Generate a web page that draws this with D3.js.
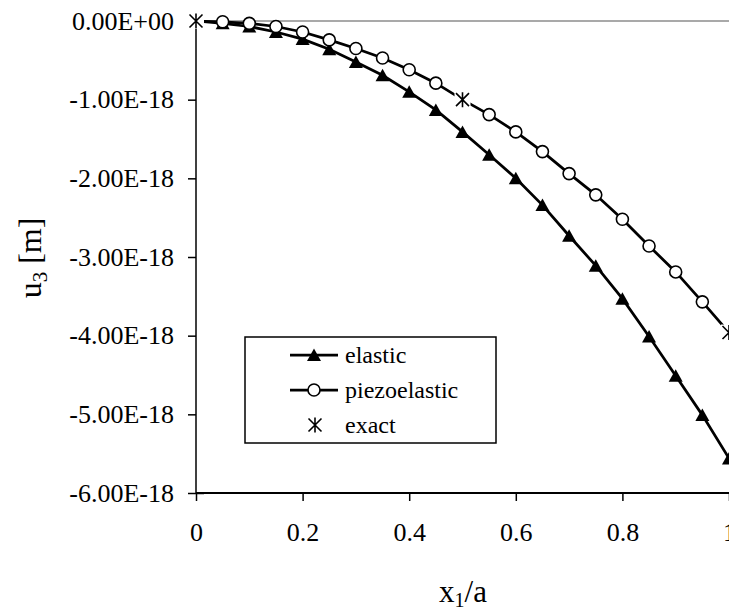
<!DOCTYPE html>
<html>
<head>
<meta charset="utf-8">
<script src="https://cdn.jsdelivr.net/npm/d3@7"></script>
<style>
  html, body { margin: 0; padding: 0; background: #fff; }
  svg { display: block; }
  svg text { font-family: "Liberation Serif", "Times New Roman", serif; fill: #000; }
</style>
</head>
<body>
<script>
// ---- data (u3 values in units of 1e-18 m) ----
const UNIT = 1e-18;
const xPos = [0, 0.05, 0.1, 0.15, 0.2, 0.25, 0.3, 0.35, 0.4, 0.45, 0.5,
              0.55, 0.6, 0.65, 0.7, 0.75, 0.8, 0.85, 0.9, 0.95, 1.0];
const elastic = [0, -0.03, -0.07, -0.14, -0.23, -0.36, -0.52, -0.69, -0.90, -1.13, -1.41,
                 -1.70, -2.00, -2.34, -2.73, -3.11, -3.53, -4.01, -4.51, -5.01, -5.56];
const piezoelastic = [0, -0.01, -0.03, -0.07, -0.14, -0.24, -0.35, -0.47, -0.62, -0.79, -1.00,
                      -1.19, -1.41, -1.66, -1.94, -2.21, -2.52, -2.86, -3.19, -3.57, -3.96];
const exactX = [0, 0.5, 1.0];
const exactY = [0, -1.00, -3.96];
const yTicks = [0, -1, -2, -3, -4, -5, -6];
const yTickLabels = ["0.00E+00", "-1.00E-18", "-2.00E-18", "-3.00E-18", "-4.00E-18", "-5.00E-18", "-6.00E-18"];
const xTicks = [0, 0.2, 0.4, 0.6, 0.8, 1];
const xTickLabels = ["0", "0.2", "0.4", "0.6", "0.8", "1"];
const legendLabels = ["elastic", "piezoelastic", "exact"];

// ---- layout ----
const W = 729, H = 612;
const FONT = "Liberation Serif, Times New Roman, serif";
const svg = d3.select("body").append("svg").attr("width", W).attr("height", H);

const x = d3.scaleLinear().domain([0, 1]).range([196, 729]);
const y = d3.scaleLinear().domain([-6, 0]).range([493, 21]);

// top plot border (grey)
svg.append("line")
  .attr("x1", x(0)).attr("x2", x(1)).attr("y1", y(0)).attr("y2", y(0))
  .attr("stroke", "#8c8c8c").attr("stroke-width", 1.5);

// y axis
const yAxis = d3.axisLeft(y).tickValues(yTicks)
  .tickFormat((d, i) => yTickLabels[i]).tickSize(8).tickPadding(14);
const gy = svg.append("g").attr("transform", `translate(${x(0)},0)`).call(yAxis)
  .attr("font-family", FONT);
gy.select(".domain").attr("stroke", "#000").attr("stroke-width", 1.5).attr("d", `M0,${y(0)}V${y(-6)}`);
gy.selectAll(".tick line").attr("stroke", "#000").attr("stroke-width", 1.5);
gy.selectAll(".tick text").style("font-size", "26px").style("font-family", FONT);
gy.selectAll(".tick").filter(d => d === -6).select("line").attr("x2", -8).attr("x1", 8);

// x axis
const xAxis = d3.axisBottom(x).tickValues(xTicks)
  .tickFormat((d, i) => xTickLabels[i]).tickSize(8).tickPadding(22);
const gx = svg.append("g").attr("transform", `translate(0,${y(-6)})`).call(xAxis)
  .attr("font-family", FONT);
gx.select(".domain").attr("stroke", "#000").attr("stroke-width", 2).attr("d", `M${x(0)},0H${x(1)}`);
gx.selectAll(".tick line").attr("stroke", "#000").attr("stroke-width", 1.5);
gx.selectAll(".tick text").style("font-size", "26px").style("font-family", FONT);

// axis titles
svg.append("text")
  .attr("x", 463).attr("y", 602).attr("text-anchor", "middle")
  .style("font-size", "31px").style("font-family", FONT)
  .html('x<tspan dy="5" style="font-size:20px">1</tspan><tspan dy="-5">/a</tspan>');

svg.append("text")
  .attr("transform", "translate(41,258) rotate(-90)")
  .attr("text-anchor", "middle")
  .style("font-size", "32px").style("font-family", FONT)
  .html('u<tspan dy="6" style="font-size:21px">3</tspan><tspan dy="-6"> [m]</tspan>');

// ---- series ----
const line = d3.line().x(d => x(d[0])).y(d => y(d[1]));
const elasticPts = xPos.map((v, i) => [v, elastic[i]]);
const piezoPts = xPos.map((v, i) => [v, piezoelastic[i]]);

const plot = svg.append("g");

plot.append("path").datum(elasticPts).attr("d", line)
  .attr("fill", "none").attr("stroke", "#000").attr("stroke-width", 2.75);
plot.append("path").datum(piezoPts).attr("d", line)
  .attr("fill", "none").attr("stroke", "#000").attr("stroke-width", 2.75);

const triPath = "M0,-6.5L7,6L-7,6Z";
plot.selectAll(".tri").data(elasticPts).join("path")
  .attr("class", "tri")
  .attr("transform", d => `translate(${x(d[0])},${y(d[1])})`)
  .attr("d", triPath).attr("fill", "#000");

plot.selectAll(".circ").data(piezoPts).join("circle")
  .attr("class", "circ")
  .attr("cx", d => x(d[0])).attr("cy", d => y(d[1])).attr("r", 6)
  .attr("fill", "#fff").attr("stroke", "#000").attr("stroke-width", 1.6);

const starPath = "M0,-7.5V7.5M-6.5,-6.5L6.5,6.5M6.5,-6.5L-6.5,6.5";
function drawStar(g, cx, cy) {
  g.append("rect").attr("x", cx - 8).attr("y", cy - 8).attr("width", 16).attr("height", 16).attr("fill", "#fff");
  g.append("path").attr("transform", `translate(${cx},${cy})`).attr("d", starPath)
    .attr("stroke", "#000").attr("stroke-width", 1.6).attr("fill", "none");
}
exactX.forEach((v, i) => drawStar(plot, x(v), y(exactY[i])));

// ---- legend ----
const lg = svg.append("g");
lg.append("rect").attr("x", 245).attr("y", 337).attr("width", 251).attr("height", 106)
  .attr("fill", "#fff").attr("stroke", "#000").attr("stroke-width", 1.5);
const rowY = [355, 390, 425];
lg.append("line").attr("x1", 290).attr("x2", 338).attr("y1", rowY[0]).attr("y2", rowY[0])
  .attr("stroke", "#000").attr("stroke-width", 2.75);
lg.append("path").attr("transform", `translate(314,${rowY[0]})`).attr("d", triPath).attr("fill", "#000");
lg.append("line").attr("x1", 290).attr("x2", 338).attr("y1", rowY[1]).attr("y2", rowY[1])
  .attr("stroke", "#000").attr("stroke-width", 2.75);
lg.append("circle").attr("cx", 314).attr("cy", rowY[1]).attr("r", 6)
  .attr("fill", "#fff").attr("stroke", "#000").attr("stroke-width", 1.6);
lg.append("path").attr("transform", `translate(315,${rowY[2]})`).attr("d", starPath)
  .attr("stroke", "#000").attr("stroke-width", 1.6).attr("fill", "none");

legendLabels.forEach((t, i) => {
  lg.append("text").attr("x", 345).attr("y", rowY[i]).attr("dy", "0.33em")
    .style("font-size", "24px").style("font-family", FONT).text(t);
});
</script>
</body>
</html>
